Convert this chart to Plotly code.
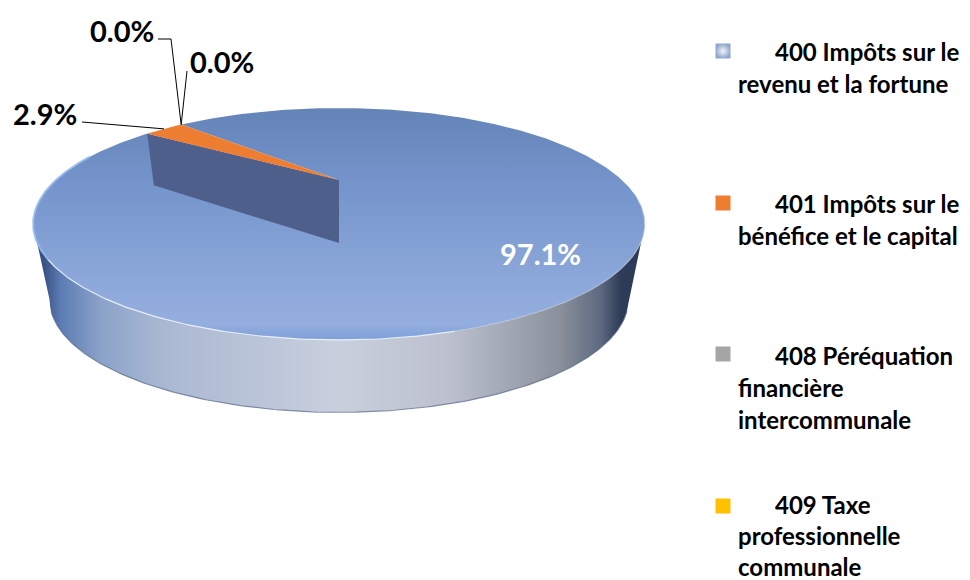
import numpy as np
import plotly.graph_objects as go

categories = ["400 Impôts sur le revenu et la fortune", "401 Impôts sur le bénéfice et le capital",
              "408 Péréquation financière intercommunale", "409 Taxe professionnelle communale"]
shares = [97.1, 2.9, 0.0, 0.0]
colors = ["#7f9fd6", "#ed7d31", "#a5a5a5", "#ffc000"]
legend_lines = [["400 Impôts sur le", "revenu et la fortune"],
                ["401 Impôts sur le", "bénéfice et le capital"],
                ["408 Péréquation", "financière", "intercommunale"],
                ["409 Taxe", "professionnelle", "communale"]]
FIRST_ANGLE = 315.0

FONT = "Lato"
CX = 339
TOP = dict(cy=180, k=99.3, p=0.379, a=283)
CUT = dict(cy=243, k=119.0, p=0.30, a=263)
SIDE = dict(cy=243, k=84.0, p=0.504, a=250)


def proj(theta_deg, disc):
    """Perspective projection of a rim point; theta is clockwise from 12 o'clock."""
    t = np.radians(90 - np.asarray(theta_deg, dtype=float))
    u, v = np.cos(t), np.sin(t)
    w = 1 + disc["p"] * v
    return CX + disc["a"] * u / w, disc["cy"] - disc["k"] * v / w


fig = go.Figure()


def poly(x, y, **kw):
    fig.add_trace(go.Scatter(x=list(x), y=list(y), mode="lines", fill="toself",
                             line=dict(width=0), hoverinfo="skip", showlegend=False, **kw))


def stroke(x, y, color, width):
    fig.add_trace(go.Scatter(x=list(x), y=list(y), mode="lines", line=dict(color=color, width=width),
                             hoverinfo="skip", showlegend=False))


# Side of the disc
ring = np.linspace(0, 360, 721)
tx, ty = proj(ring, TOP)
i_l, i_r = np.argmin(tx), np.argmax(tx)
swing = 90 + np.degrees(np.arcsin(SIDE["p"]))
fx, fy = proj(np.linspace(swing, 360 - swing, 361), SIDE)
poly([tx[i_r], *fx, tx[i_l]], [ty[i_r], *fy, ty[i_l]],
     fillgradient=dict(type="horizontal", start=33, stop=645, colorscale=[
         [0.0, "#30487c"], [0.02, "#3b5588"], [0.044, "#5b7bb2"], [0.11, "#8aa2c9"], [0.21, "#a9b8d2"],
         [0.5, "#c9cfdd"], [0.68, "#bcc0cf"], [0.86, "#8a919c"], [0.926, "#5e6b80"], [0.96, "#2f3c58"],
         [1.0, "#2b3857"]]))
stroke(*proj(np.linspace(125, 235, 200), SIDE), "rgba(90,104,135,0.7)", 1.2)

# Top face: one slice per share
top_grad = dict(type="vertical", start=108, stop=340, colorscale=[
    [0.0, "#6484b8"], [0.35, "#7595cc"], [0.7, "#8aa6d8"], [0.93, "#94aedf"], [1.0, "#7e9fd8"]])
edges = FIRST_ANGLE + np.concatenate([[0], np.cumsum(shares)]) * 3.6
for i, s in enumerate(shares):
    arc = np.linspace(edges[i], edges[i + 1], max(2, int(s * 8)))
    rx, ry = proj(arc, TOP)
    if i == 0:
        poly([CX, *rx, CX], [TOP["cy"], *ry, TOP["cy"]], fillgradient=top_grad)
        # cut face of the big slice
        ex, ey = proj(edges[1], TOP)
        gx, gy = proj(edges[1], CUT)
        poly([ex, gx, CX, CX], [ey, gy, CUT["cy"], TOP["cy"]], fillcolor="#4f5f8c")
    else:
        poly([CX, *rx, CX], [TOP["cy"], *ry, TOP["cy"]], fillcolor=colors[i])

# Rim highlights
stroke(*proj(np.linspace(165, 232, 120), TOP), "rgba(240,245,252,0.9)", 1.2)
stroke(*proj(np.linspace(232, 285, 80), TOP), "rgba(150,185,238,0.9)", 2)
stroke(*proj(np.linspace(100, 165, 80), TOP), "rgba(195,205,225,0.7)", 1.2)

# Leader lines
mid = [(edges[i] + edges[i + 1]) / 2 for i in range(4)]
p29 = proj(mid[1], TOP)
p0 = proj(mid[2], TOP)
stroke([82, p29[0]], [122, p29[1]], "#000000", 1)
stroke([158, 171, p0[0]], [39, 39, p0[1]], "#000000", 1)
stroke([187, p0[0]], [71, p0[1]], "#000000", 1)

ann = []


def label(x, y, text, size, color="#000000", anchor="left"):
    ann.append(dict(x=x, y=y, xref="x", yref="y", text=f"<b>{text}</b>", showarrow=False, xanchor=anchor,
                    yanchor="middle", align="left",
                    font=dict(family=FONT, size=size, color=color, weight=900)))


label(122, 30, f"{shares[3]:.1f}%", 29, anchor="center")
label(222, 61, f"{shares[2]:.1f}%", 29, anchor="center")
label(45, 113, f"{shares[1]:.1f}%", 29, anchor="center")
label(540, 253, f"{shares[0]:.1f}%", 29, "#ffffff", anchor="center")

# Legend
first_y = [51, 203, 355, 504]
line_gap = [32, 32, 32, 31]
swatch_y = [51, 203, 354, 506]
for i, lines in enumerate(legend_lines):
    marker = dict(symbol="square", size=15, color=colors[i], line=dict(width=0))
    if i == 0:
        marker = dict(symbol="square", size=15, color="#8fa6cc",
                      gradient=dict(type="radial", color="#f3f6fb"), line=dict(width=0))
    fig.add_trace(go.Scatter(x=[723], y=[swatch_y[i]], mode="markers", marker=marker,
                             name=categories[i], hoverinfo="skip", showlegend=False))
    for j, line in enumerate(lines):
        label(773 if j == 0 else 736, first_y[i] + line_gap[i] * j, line, 24)

fig.update_layout(
    width=970, height=580, margin=dict(l=0, r=0, t=0, b=0),
    paper_bgcolor="#ffffff", plot_bgcolor="#ffffff", showlegend=False, annotations=ann,
    xaxis=dict(range=[0, 970], visible=False, fixedrange=True),
    yaxis=dict(range=[580, 0], visible=False, fixedrange=True),
)
fig.write_html("out.html", config=dict(displayModeBar=False),
               post_script="document.body.style.margin='0';document.body.style.overflow='hidden';")
